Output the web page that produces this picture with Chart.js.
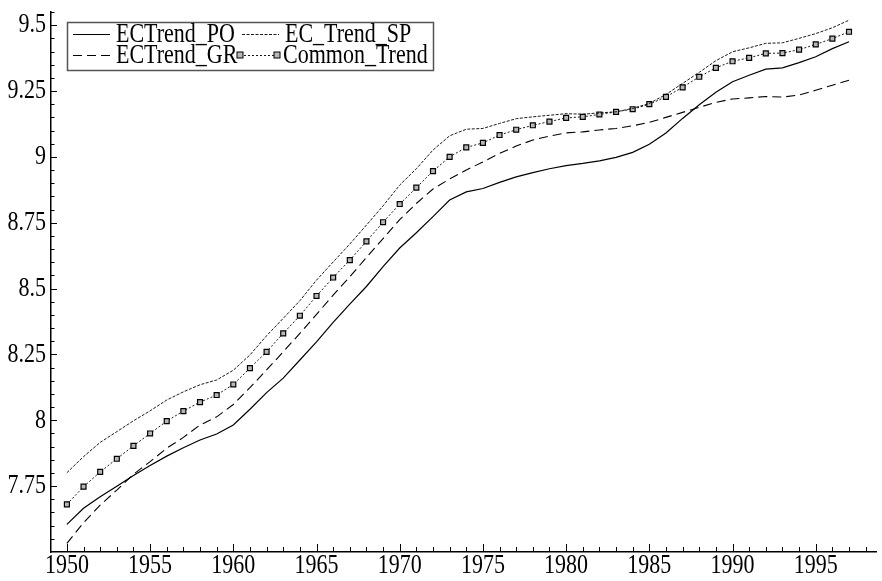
<!DOCTYPE html>
<html>
<head>
<meta charset="utf-8">
<script src="https://cdn.jsdelivr.net/npm/chart.js@4/dist/chart.umd.min.js"></script>
<style>
  body { margin: 0; background: #fff; }
  canvas { display: block; }
</style>
</head>
<body>
<canvas id="trendChart" width="882" height="581"></canvas>
<script>
let years = [];
for (let y = 1950; y <= 1997; y++) years.push(y);

let ecTrendPO = [7.605, 7.666, 7.710, 7.750, 7.790, 7.828, 7.864, 7.896, 7.925, 7.948,
  7.982, 8.042, 8.105, 8.160, 8.229, 8.298, 8.372, 8.441, 8.508, 8.583,
  8.654, 8.712, 8.773, 8.836, 8.867, 8.880, 8.903, 8.924, 8.940, 8.955,
  8.967, 8.975, 8.985, 8.998, 9.017, 9.048, 9.091, 9.146, 9.198, 9.245,
  9.285, 9.310, 9.333, 9.338, 9.358, 9.380, 9.411, 9.437];

let ecTrendSP = [7.801, 7.862, 7.916, 7.957, 7.998, 8.036, 8.077, 8.108, 8.135, 8.153,
  8.190, 8.248, 8.321, 8.387, 8.454, 8.532, 8.601, 8.669, 8.741, 8.814,
  8.893, 8.955, 9.026, 9.080, 9.105, 9.108, 9.127, 9.145, 9.152, 9.158,
  9.164, 9.162, 9.167, 9.171, 9.184, 9.203, 9.237, 9.279, 9.321, 9.365,
  9.399, 9.414, 9.431, 9.433, 9.450, 9.468, 9.490, 9.519];

let ecTrendGR = [7.533, 7.611, 7.678, 7.735, 7.795, 7.843, 7.894, 7.935, 7.982, 8.013,
  8.060, 8.124, 8.191, 8.260, 8.330, 8.402, 8.475, 8.545, 8.618, 8.690,
  8.762, 8.823, 8.878, 8.916, 8.950, 8.981, 9.013, 9.041, 9.064, 9.079,
  9.091, 9.095, 9.102, 9.108, 9.118, 9.131, 9.150, 9.169, 9.188, 9.207,
  9.220, 9.224, 9.229, 9.227, 9.235, 9.253, 9.272, 9.291];

let commonTrend = [7.681, 7.748, 7.804, 7.854, 7.903, 7.950, 7.997, 8.035, 8.069, 8.096,
  8.136, 8.198, 8.260, 8.330, 8.397, 8.472, 8.542, 8.608, 8.679, 8.752,
  8.821, 8.883, 8.946, 9.000, 9.036, 9.053, 9.083, 9.103, 9.120, 9.134,
  9.148, 9.152, 9.161, 9.171, 9.181, 9.200, 9.228, 9.264, 9.304, 9.338,
  9.363, 9.376, 9.393, 9.394, 9.407, 9.427, 9.449, 9.475];

let xTickLabels = [1950, 1955, 1960, 1965, 1970, 1975, 1980, 1985, 1990, 1995];
let yTickLabels = ["7.75", "8", "8.25", "8.5", "8.75", "9", "9.25", "9.5"];

let FONT = "22px 'Liberation Serif', 'Times New Roman', serif";
let STRETCH = 1.25;

function pts(arr) {
  return years.map(function (yr, i) { return { x: yr, y: arr[i] }; });
}

function stretchedText(ctx, txt, x, y, align) {
  ctx.save();
  ctx.translate(x, y);
  ctx.scale(1, STRETCH);
  ctx.textAlign = align;
  ctx.textBaseline = "middle";
  ctx.fillText(txt, 0, 0);
  ctx.restore();
}

// ticks inside the frame + stretched serif labels
let axisPlugin = {
  id: "axisPlugin",
  afterDraw: function (chart) {
    let ctx = chart.ctx;
    let xs = chart.scales.x;
    let ys = chart.scales.y;
    let area = chart.chartArea;
    ctx.save();
    ctx.strokeStyle = "#000";
    ctx.lineWidth = 1;
    ctx.beginPath();
    for (let yr = 1950; yr <= 1998; yr++) {
      let px = Math.round(xs.getPixelForValue(yr)) + 0.5;
      let len = (yr % 5 === 0) ? 8 : 5;
      ctx.moveTo(px, area.bottom);
      ctx.lineTo(px, area.bottom - len);
    }
    for (let k = 151; k <= 191; k++) {
      let v = k * 0.05;
      let py = Math.round(ys.getPixelForValue(v)) + 0.5;
      let len = (k % 5 === 0) ? 6 : 3.5;
      ctx.moveTo(area.left, py);
      ctx.lineTo(area.left + len, py);
    }
    ctx.stroke();

    ctx.fillStyle = "#000";
    ctx.font = FONT;
    xTickLabels.forEach(function (t) {
      stretchedText(ctx, String(t), xs.getPixelForValue(t), area.bottom + 14, "center");
    });
    yTickLabels.forEach(function (t) {
      stretchedText(ctx, t, area.left - 5, ys.getPixelForValue(Number(t)), "right");
    });
    ctx.restore();
  }
};

// two-column legend in a box at the top left
let legendPlugin = {
  id: "legendPlugin",
  afterDraw: function (chart) {
    let ctx = chart.ctx;
    let sets = chart.data.datasets;
    ctx.save();
    ctx.font = FONT;
    let cells = [
      { ds: sets[0], x: 73, y: 34 },
      { ds: sets[1], x: 242, y: 34 },
      { ds: sets[2], x: 73, y: 55 },
      { ds: sets[3], x: 240, y: 55 }
    ];
    let textEnd = 0;
    cells.forEach(function (c) {
      textEnd = Math.max(textEnd, c.x + 43 + ctx.measureText(c.ds.label).width);
    });
    let left = 67, top = 22, right = Math.round(textEnd + 5), bottom = 70;
    ctx.fillStyle = "#fff";
    ctx.fillRect(left, top, right - left, bottom - top);
    ctx.strokeStyle = "#555";
    ctx.lineWidth = 1.5;
    ctx.strokeRect(left + 0.5, top + 0.5, right - left, bottom - top);

    cells.forEach(function (c) {
      ctx.strokeStyle = "#000";
      ctx.lineWidth = c.ds.borderWidth;
      ctx.setLineDash(c.ds.borderDash || []);
      ctx.beginPath();
      ctx.moveTo(c.x, c.y + 0.5);
      ctx.lineTo(c.x + 37, c.y + 0.5);
      ctx.stroke();
      ctx.setLineDash([]);
      if (c.ds.pointRadius > 0) {
        [c.x, c.x + 37].forEach(function (mx) {
          ctx.fillStyle = c.ds.pointBackgroundColor;
          ctx.fillRect(mx - 3, c.y - 3, 6, 6);
          ctx.strokeStyle = "#000";
          ctx.lineWidth = 1;
          ctx.strokeRect(mx - 3, c.y - 3, 6, 6);
        });
      }
      ctx.fillStyle = "#000";
      stretchedText(ctx, c.ds.label, c.x + 43, c.y + 1, "left");
    });
    ctx.restore();
  }
};

new Chart(document.getElementById("trendChart"), {
  type: "line",
  data: {
    datasets: [
      { label: "ECTrend_PO", data: pts(ecTrendPO), borderColor: "#000", borderWidth: 1.2, pointRadius: 0 },
      { label: "EC_Trend_SP", data: pts(ecTrendSP), borderColor: "#000", borderWidth: 0.9, borderDash: [3, 1.5], pointRadius: 0 },
      { label: "ECTrend_GR", data: pts(ecTrendGR), borderColor: "#000", borderWidth: 1.1, borderDash: [9, 5], pointRadius: 0 },
      { label: "Common_Trend", data: pts(commonTrend), borderColor: "#000", borderWidth: 0.9, borderDash: [2, 2],
        pointStyle: "rect", pointRadius: 3.5, pointBorderWidth: 1.2, pointBorderColor: "#000",
        pointBackgroundColor: "#b8b8b8" }
    ]
  },
  options: {
    responsive: false,
    animation: false,
    layout: { padding: { left: 51, top: 12, right: 0, bottom: 29 } },
    plugins: { legend: { display: false }, tooltip: { enabled: false } },
    scales: {
      x: {
        type: "linear", min: 1949.045, max: 1998.67,
        grid: { display: false, drawTicks: false },
        border: { display: true, color: "#000", width: 1.5 },
        ticks: { display: false },
        afterFit: function (s) { s.height = 0; s.paddingLeft = 0; s.paddingRight = 0; }
      },
      y: {
        min: 7.5, max: 9.55,
        grid: { display: false, drawTicks: false },
        border: { display: true, color: "#000", width: 1.5 },
        ticks: { display: false },
        afterFit: function (s) { s.width = 0; s.paddingTop = 0; s.paddingBottom = 0; }
      }
    }
  },
  plugins: [axisPlugin, legendPlugin]
});
</script>
</body>
</html>
